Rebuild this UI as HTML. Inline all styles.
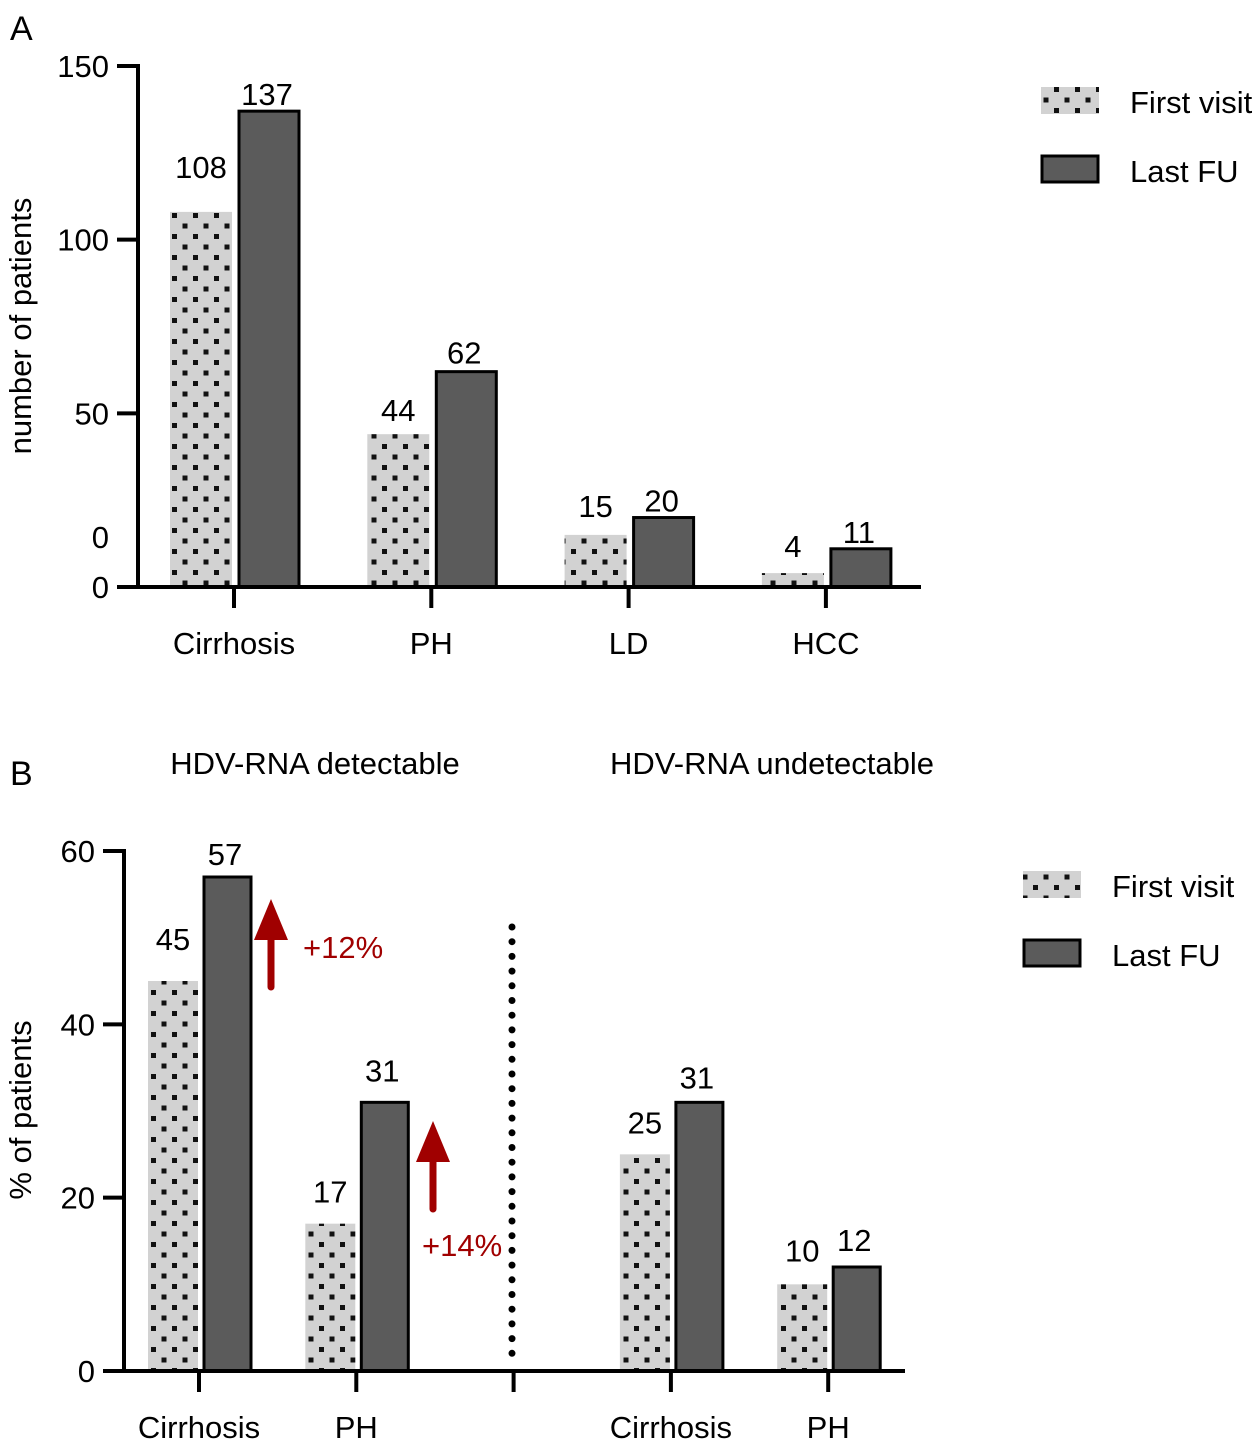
<!DOCTYPE html>
<html><head><meta charset="utf-8"><style>
html,body{margin:0;padding:0;background:#fff;}
svg{display:block;font-family:"Liberation Sans",sans-serif;}
text{font-family:"Liberation Sans",sans-serif;fill:#000;}
</style></head><body>
<svg id="chart" width="1255" height="1444" viewBox="0 0 1255 1444" xmlns="http://www.w3.org/2000/svg">
<defs>
<pattern id="dots" width="21" height="21" patternUnits="userSpaceOnUse">
<rect width="21" height="21" fill="#d2d2d2"/>
<rect x="4" y="3" width="5" height="5" fill="#111"/>
<rect x="14.5" y="13.5" width="5" height="5" fill="#111"/>
</pattern>
</defs>
<g id="gA"></g>
<g id="gB"></g>
</svg>
<script>
const NS="http://www.w3.org/2000/svg";
// Panel A data
const catsA=["Cirrhosis","PH","LD","HCC"];
const firstA=[108,44,15,4];
const lastA=[137,62,20,11];
const ticksA=[0,50,100,150];
// Panel B data
const catsB=["Cirrhosis","PH","","Cirrhosis","PH"];
const firstB=[45,17,null,25,10];
const lastB=[57,31,null,31,12];
const ticksB=[0,20,40,60];
const arrowsB=["+12%","+14%"];
// label gaps (styling)
const gapFirstA=[34,13,18,16], gapLastA=[6,8,6,6];
const gapFirstB=[31,21,0,21,23], gapLastB=[12,21,0,14,16];
const FS=31;

function el(parent,tag,attrs,text){
  const e=document.createElementNS(NS,tag);
  for(const k in attrs)e.setAttribute(k,attrs[k]);
  if(text!==undefined)e.textContent=text;
  parent.appendChild(e);return e;
}
const gA=document.getElementById('gA'),gB=document.getElementById('gB');

// ---- Panel A ----
const yA=v=>587-v*(521/150);
const xA=i=>234+i*197.3;
let t=el(gA,'text',{x:10,y:40,'font-size':34},'A');


catsA.forEach((c,i)=>{
  const cx=xA(i);
  let r=el(gA,'rect',{x:cx-64,y:yA(firstA[i]),width:62,height:587-yA(firstA[i]),fill:'url(#dots)'});
  
  
  r=el(gA,'rect',{x:cx+5,y:yA(lastA[i]),width:60,height:587-yA(lastA[i]),fill:'#5b5b5b',stroke:'#000','stroke-width':3});
  
  
  let l=el(gA,'text',{x:cx-33,y:yA(firstA[i])-gapFirstA[i],'font-size':FS,'text-anchor':'middle'},firstA[i]);
  
  
  l=el(gA,'text',{x:cx+33,y:yA(lastA[i])-gapLastA[i],'font-size':FS,'text-anchor':'middle'},lastA[i]);
  
  
  el(gA,'line',{x1:cx,y1:587,x2:cx,y2:608,stroke:'#000','stroke-width':4});
  l=el(gA,'text',{x:cx,y:654,'font-size':FS,'text-anchor':'middle'},c);
  
  
});
el(gA,'line',{x1:138,y1:64,x2:138,y2:589,stroke:'#000','stroke-width':4});
el(gA,'line',{x1:117,y1:587,x2:921,y2:587,stroke:'#000','stroke-width':4});
ticksA.forEach(v=>{
  el(gA,'line',{x1:117,y1:yA(v),x2:138,y2:yA(v),stroke:'#000','stroke-width':4});
  let l=el(gA,'text',{x:109,y:yA(v)+11,'font-size':FS,'text-anchor':'end'},v);
  
  
});
el(gA,'text',{x:109,y:548,'font-size':FS,'text-anchor':'end'},'0');
t=el(gA,'text',{x:0,y:0,'font-size':FS,'text-anchor':'middle',transform:'translate(31,326) rotate(-90)'},'number of patients');


// legend A
let lg=el(gA,'g',{});


el(lg,'rect',{x:1041,y:87,width:58,height:27,fill:'url(#dots)'});
el(lg,'text',{x:1130,y:113,'font-size':FS},'First visit');
el(lg,'rect',{x:1042,y:156,width:56,height:26,fill:'#5b5b5b',stroke:'#000','stroke-width':3});
el(lg,'text',{x:1130,y:182,'font-size':FS},'Last FU');

// ---- Panel B ----
const yB=v=>1371-v*(520/60);
const xB=i=>199+i*157.3;
t=el(gB,'text',{x:10,y:785,'font-size':34},'B');


t=el(gB,'text',{x:315,y:774,'font-size':FS,'text-anchor':'middle'},'HDV-RNA detectable');


t=el(gB,'text',{x:772,y:774,'font-size':FS,'text-anchor':'middle'},'HDV-RNA undetectable');


catsB.forEach((c,i)=>{
  const cx=xB(i);
  el(gB,'line',{x1:cx,y1:1371,x2:cx,y2:1392,stroke:'#000','stroke-width':4});
  if(firstB[i]===null)return;
  let r=el(gB,'rect',{x:cx-51,y:yB(firstB[i]),width:50,height:1371-yB(firstB[i]),fill:'url(#dots)'});
  
  
  r=el(gB,'rect',{x:cx+5,y:yB(lastB[i]),width:47,height:1371-yB(lastB[i]),fill:'#5b5b5b',stroke:'#000','stroke-width':3});
  
  
  let l=el(gB,'text',{x:cx-26,y:yB(firstB[i])-gapFirstB[i],'font-size':FS,'text-anchor':'middle'},firstB[i]);
  
  
  l=el(gB,'text',{x:cx+26,y:yB(lastB[i])-gapLastB[i],'font-size':FS,'text-anchor':'middle'},lastB[i]);
  
  
  l=el(gB,'text',{x:cx,y:1438,'font-size':FS,'text-anchor':'middle'},c);
  
  
});
let dv=el(gB,'line',{x1:512,y1:927,x2:512,y2:1368,stroke:'#000','stroke-width':7,'stroke-linecap':'round','stroke-dasharray':'0 14.7'});


el(gB,'line',{x1:124,y1:849,x2:124,y2:1373,stroke:'#000','stroke-width':4});
el(gB,'line',{x1:103,y1:1371,x2:905,y2:1371,stroke:'#000','stroke-width':4});
ticksB.forEach(v=>{
  el(gB,'line',{x1:103,y1:yB(v),x2:124,y2:yB(v),stroke:'#000','stroke-width':4});
  let l=el(gB,'text',{x:95,y:yB(v)+11,'font-size':FS,'text-anchor':'end'},v);
  
  
});
t=el(gB,'text',{x:0,y:0,'font-size':FS,'text-anchor':'middle',transform:'translate(31,1110) rotate(-90)'},'% of patients');


// arrows
function arrow(cx,top,label,lx,ly){
  const g=el(gB,'g',{});
  
  
  el(g,'polygon',{points:`${cx},${top} ${cx+17},${top+41} ${cx-17},${top+41}`,fill:'#a00000'});
  el(g,'line',{x1:cx,y1:top+38,x2:cx,y2:top+88,stroke:'#a00000','stroke-width':7,'stroke-linecap':'round'});
  el(g,'text',{x:lx,y:ly,'font-size':FS,style:'fill:#a00000'},label);
}
arrow(271,899,arrowsB[0],303,958);
arrow(433,1121,arrowsB[1],422,1256);
lg=el(gB,'g',{});


el(lg,'rect',{x:1023,y:871,width:58,height:27,fill:'url(#dots)'});
el(lg,'text',{x:1112,y:897,'font-size':FS},'First visit');
el(lg,'rect',{x:1024,y:940,width:56,height:26,fill:'#5b5b5b',stroke:'#000','stroke-width':3});
el(lg,'text',{x:1112,y:966,'font-size':FS},'Last FU');
</script>
</body></html>
